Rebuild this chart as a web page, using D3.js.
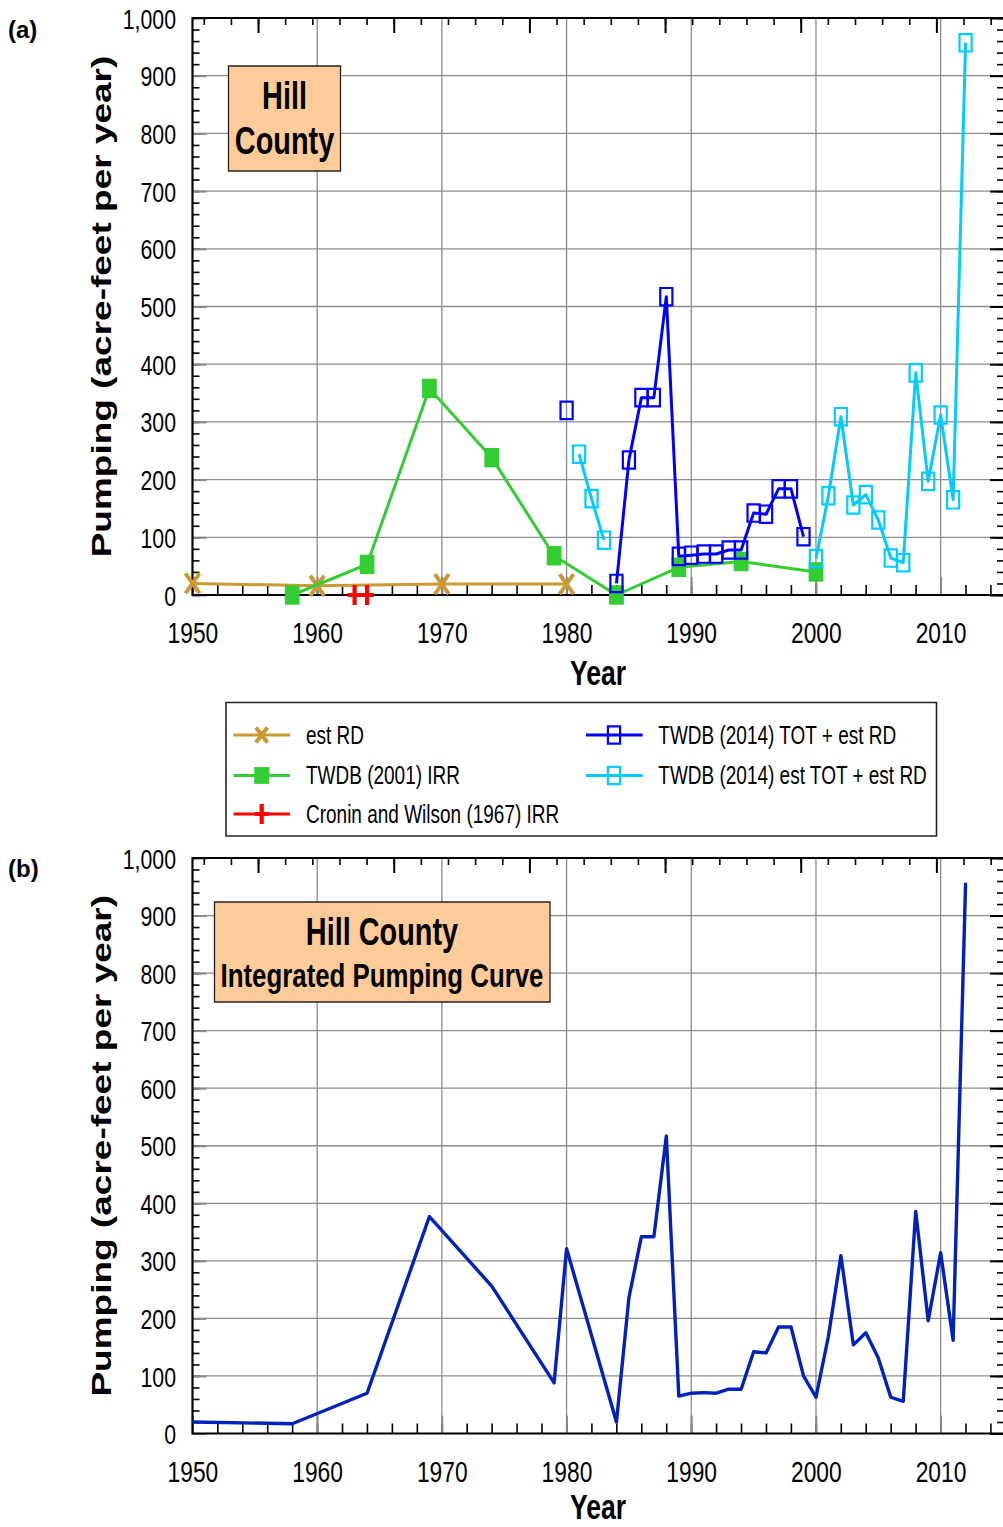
<!DOCTYPE html>
<html><head><meta charset="utf-8">
<script src="https://cdn.jsdelivr.net/npm/d3@7"></script>
<style>
body{margin:0;background:#fff}
svg{display:block}
text{font-family:"Liberation Sans",Arial,Helvetica,sans-serif;fill:#000}
</style>
</head><body>
<svg id="c" width="1003" height="1527"></svg>
<script>
// ---------------- DATA ----------------
const rdYears = [1950, 1960, 1970, 1980];
const rdValues = [20, 16, 19, 19];

const irrYears = [1958, 1964, 1969, 1974, 1979, 1984, 1989, 1994, 2000];
const irrValues = [0, 53, 358, 238, 68, 0, 48, 58, 40];

const croninYears = [1963, 1964];
const croninValues = [0, 0];

const totYears = [1980, 1984, 1985, 1986, 1987, 1988, 1989, 1990, 1991, 1992, 1993, 1994, 1995, 1996, 1997, 1998, 1999];
const totValues = [320, 20, 234, 342, 342, 517, 67, 69, 71, 71, 78, 78, 142, 140, 184, 184, 101];

const estTotYears = [1981, 1982, 1983, 2000, 2001, 2002, 2003, 2004, 2005, 2006, 2007, 2008, 2009, 2010, 2011, 2012];
const estTotValues = [244, 167, 95, 63, 172, 309, 156, 174, 130, 64, 56, 385, 197, 312, 165, 957];

const intYears = [1950, 1958, 1964, 1969, 1974, 1979, 1980, 1984, 1985, 1986, 1987, 1988, 1989, 1990, 1991, 1992, 1993, 1994, 1995, 1996, 1997, 1998, 1999, 2000, 2001, 2002, 2003, 2004, 2005, 2006, 2007, 2008, 2009, 2010, 2011, 2012];
const intValues = [20, 17, 70, 377, 256, 88, 321, 20, 236, 342, 342, 517, 65, 70, 71, 70, 77, 77, 142, 140, 185, 185, 100, 63, 169, 309, 154, 175, 131, 63, 56, 386, 196, 314, 162, 957];

const xTickYears = [1950, 1960, 1970, 1980, 1990, 2000, 2010];
const yTickValues = [0, 100, 200, 300, 400, 500, 600, 700, 800, 900, 1000];

const legendLabels = ["est RD", "TWDB (2001) IRR", "Cronin and Wilson (1967) IRR", "TWDB (2014) TOT + est RD", "TWDB (2014) est TOT + est RD"];

// ---------------- STYLE ----------------
const C = {rd: "#CC9933", irr: "#33CC33", cronin: "#FF0000", tot: "#0000FF", est: "#00CCFF", integ: "#0022BB", grid: "#8c8c8c"};
const k = 0.76;               // horizontal condensing of the whole figure
const X = v => v / k;         // screen x -> local x

const svg = d3.select("#c");
svg.append("rect").attr("width", 1003).attr("height", 1527).attr("fill", "#fff");
const root = svg.append("g").attr("transform", `scale(${k},1)`);

const x = d3.scaleLinear().domain([1950, 2015]).range([X(192.5), X(1003)]);
const xTop = d3.scaleLinear().domain([-27.42, 2.45]).range([X(192.5), X(1003)]);
const fmt = d3.format(",");

function nss(sel) { return sel.attr("vector-effect", "non-scaling-stroke"); }

function panel(yRange, titleY) {
  const y = d3.scaleLinear().domain([0, 1000]).range(yRange);
  const g = root.append("g");
  // grid
  g.append("g").selectAll("line").data(xTickYears.slice(1)).join("line")
    .attr("x1", d => x(d)).attr("x2", d => x(d)).attr("y1", y(0)).attr("y2", y(1000))
    .attr("stroke", C.grid).attr("stroke-width", 1.3).call(nss);
  g.append("g").selectAll("line").data(yTickValues.slice(1, -1)).join("line")
    .attr("x1", x(1950)).attr("x2", x(2015)).attr("y1", d => y(d)).attr("y2", d => y(d))
    .attr("stroke", C.grid).attr("stroke-width", 1.3).call(nss);

  const clean = (a, col, w) => a.call(s => s.select(".domain").remove())
    .call(s => s.selectAll("line").attr("stroke", col).attr("stroke-width", w).call(nss));

  // left axis
  g.append("g").attr("transform", `translate(${x(1950)},0)`)
    .call(d3.axisLeft(y).tickValues(d3.range(0, 1001, 20)).tickSize(-X(7)).tickFormat(""))
    .call(s => clean(s, "#000", 1.6));
  const la = g.append("g").attr("transform", `translate(${x(1950)},0)`)
    .call(d3.axisLeft(y).tickValues(yTickValues).tickSize(-X(14)).tickPadding(X(16.5)).tickFormat(fmt))
    .call(s => clean(s, "#888", 2));
  la.selectAll("text").attr("font-size", 28).attr("font-family", "Liberation Sans, Arial, sans-serif").attr("fill", "#000").attr("dy", "0.36em");

  // right axis
  g.append("g").attr("transform", `translate(${X(1003)},0)`)
    .call(d3.axisRight(y).tickValues(d3.range(0, 1001, 20)).tickSize(-X(6)).tickFormat(""))
    .call(s => clean(s, "#000", 1.6));
  g.append("g").attr("transform", `translate(${X(1003)},0)`)
    .call(d3.axisRight(y).tickValues(yTickValues).tickSize(-X(13)).tickFormat(""))
    .call(s => clean(s, "#000", 2));

  // bottom axis
  g.append("g").attr("transform", `translate(0,${y(0)})`)
    .call(d3.axisBottom(x).tickValues(d3.range(1950, 2015, 2)).tickSize(-10).tickFormat(""))
    .call(s => clean(s, "#000", 1.6));
  const ba = g.append("g").attr("transform", `translate(0,${y(0)})`)
    .call(d3.axisBottom(x).tickValues(xTickYears).tickSize(-18).tickPadding(27).tickFormat(d3.format("d")))
    .call(s => clean(s, "#888", 2));
  ba.selectAll("text").attr("font-size", 30).attr("font-family", "Liberation Sans, Arial, sans-serif").attr("fill", "#000");

  // top axis
  g.append("g").attr("transform", `translate(0,${y(1000)})`)
    .call(d3.axisTop(xTop).tickValues(d3.range(-27, 3, 1)).tickSize(-7).tickFormat(""))
    .call(s => clean(s, "#000", 1.6));
  g.append("g").attr("transform", `translate(0,${y(1000)})`)
    .call(d3.axisTop(xTop).tickValues([-25, -20, -15, -10, -5, 0]).tickSize(-15).tickFormat(""))
    .call(s => clean(s, "#000", 2));

  // frame
  const fr = g.append("g").attr("stroke", "#000").attr("stroke-width", 2.2);
  fr.append("line").attr("x1", x(1950)).attr("x2", x(1950)).attr("y1", y(0) + 1).attr("y2", y(1000) - 1).call(nss);
  fr.append("line").attr("x1", x(1950)).attr("x2", x(2015)).attr("y1", y(0)).attr("y2", y(0)).call(nss);
  fr.append("line").attr("x1", x(1950)).attr("x2", x(2015)).attr("y1", y(1000)).attr("y2", y(1000)).call(nss);

  // y title
  g.append("text").attr("transform", `translate(${X(101)},${(yRange[0] + yRange[1]) / 2}) rotate(-90)`)
    .attr("text-anchor", "middle").attr("dominant-baseline", "central")
    .attr("font-size", 37).attr("font-weight", "bold").text("Pumping (acre-feet per year)");
  // x title
  g.append("text").attr("x", X(598)).attr("y", titleY).attr("text-anchor", "middle")
    .attr("font-size", 35).attr("font-weight", "bold").text("Year");
  return {g, y};
}

function drawMarker(sel, type, color, small) {
  if (type === "x") {
    const sx = small ? 7.5 : 9.2, sy = small ? 7.5 : 10;
    sel.append("path").attr("d", `M${-sx},${-sy}L${sx},${sy}M${-sx},${sy}L${sx},${-sy}`)
      .attr("stroke", color).attr("stroke-width", 4).attr("fill", "none").call(nss);
  } else if (type === "fsq") {
    const s = small ? 9.8 : 9.7, h = small ? 8.4 : 9.7;
    sel.append("rect").attr("x", -s).attr("y", -h).attr("width", 2 * s).attr("height", 2 * h).attr("fill", color);
  } else if (type === "osq") {
    sel.append("rect").attr("x", -8).attr("y", -8.7).attr("width", 16).attr("height", 17.4)
      .attr("fill", "none").attr("stroke", color).attr("stroke-width", 2.2).call(nss);
  } else if (type === "plus") {
    sel.append("path").attr("d", "M-9.2,0H9.2M0,-10V10")
      .attr("stroke", color).attr("stroke-width", 4.2).attr("fill", "none").call(nss);
  }
}

function series(g, y, xs, vs, color, marker, splitGaps, width) {
  const pts = xs.map((d, i) => ({yr: d, v: vs[i]}));
  const segs = [[]];
  pts.forEach((p, i) => {
    if (splitGaps && i > 0 && p.yr - pts[i - 1].yr > 1) segs.push([]);
    segs[segs.length - 1].push(p);
  });
  const line = d3.line().x(d => x(d.yr)).y(d => y(d.v));
  const sg = g.append("g");
  segs.filter(s => s.length > 1).forEach(s =>
    sg.append("path").attr("d", line(s)).attr("fill", "none").attr("stroke", color)
      .attr("stroke-width", width || 3).attr("stroke-linejoin", "round").call(nss));
  if (marker) {
    pts.forEach(p => {
      const m = sg.append("g").attr("transform", `translate(${x(p.yr)},${y(p.v)})`);
      drawMarker(m, marker, color, false);
    });
  }
}

// ---------------- PANEL A ----------------
const A = panel([595, 18], 685);
series(A.g, A.y, rdYears, rdValues, C.rd, "x", false);
series(A.g, A.y, irrYears, irrValues, C.irr, "fsq", false);
series(A.g, A.y, croninYears, croninValues, C.cronin, "plus", false);
series(A.g, A.y, totYears, totValues, C.tot, "osq", true);
series(A.g, A.y, estTotYears, estTotValues, C.est, "osq", true);

// title box A
const bA = root.append("g");
bA.append("rect").attr("x", X(228.5)).attr("y", 66).attr("width", X(340.5) - X(228.5)).attr("height", 105)
  .attr("fill", "#FFCC99").attr("stroke", "#222").attr("stroke-width", 1.3).call(nss);
bA.append("text").attr("x", X(284.5)).attr("y", 109).attr("text-anchor", "middle")
  .attr("font-size", 38).attr("font-weight", "bold").text("Hill");
bA.append("text").attr("x", X(284.5)).attr("y", 154).attr("text-anchor", "middle")
  .attr("font-size", 38).attr("font-weight", "bold").text("County");

// ---------------- LEGEND ----------------
const lg = root.append("g");
lg.append("rect").attr("x", X(226)).attr("y", 702.5).attr("width", X(936.5) - X(226)).attr("height", 133.5)
  .attr("fill", "#fff").attr("stroke", "#222").attr("stroke-width", 1.6).call(nss);
const legendItems = [
  {label: legendLabels[0], color: C.rd, m: "x", col: 0, row: 0},
  {label: legendLabels[1], color: C.irr, m: "fsq", col: 0, row: 1},
  {label: legendLabels[2], color: C.cronin, m: "plus", col: 0, row: 2},
  {label: legendLabels[3], color: C.tot, m: "osq", col: 1, row: 0},
  {label: legendLabels[4], color: C.est, m: "osq", col: 1, row: 1}
];
const rowY = [735, 775.5, 814];
const colX = [{l: 233.5, r: 290, m: 261.7, t: 306}, {l: 586, r: 642.7, m: 614, t: 658.3}];
legendItems.forEach(it => {
  const c = colX[it.col], yy = rowY[it.row];
  lg.append("line").attr("x1", X(c.l)).attr("x2", X(c.r)).attr("y1", yy).attr("y2", yy)
    .attr("stroke", it.color).attr("stroke-width", 3).call(nss);
  const m = lg.append("g").attr("transform", `translate(${X(c.m)},${yy})`);
  drawMarker(m, it.m, it.color, true);
  lg.append("text").attr("x", X(c.t)).attr("y", yy + 8.8).attr("font-size", 25).text(it.label);
});

// ---------------- PANEL B ----------------
const B = panel([1433.5, 858], 1519);
series(B.g, B.y, intYears, intValues, C.integ, null, false, 3.4);

const bB = root.append("g");
bB.append("rect").attr("x", X(214.5)).attr("y", 902).attr("width", X(550) - X(214.5)).attr("height", 100)
  .attr("fill", "#FFCC99").attr("stroke", "#222").attr("stroke-width", 1.3).call(nss);
bB.append("text").attr("x", X(382)).attr("y", 945).attr("text-anchor", "middle")
  .attr("font-size", 38).attr("font-weight", "bold").text("Hill County");
bB.append("text").attr("x", X(382)).attr("y", 987).attr("text-anchor", "middle")
  .attr("font-size", 34).attr("font-weight", "bold").text("Integrated Pumping Curve");

// panel labels
svg.append("text").attr("x", 8).attr("y", 38).attr("font-size", 24).attr("font-weight", "bold").text("(a)");
svg.append("text").attr("x", 8).attr("y", 877).attr("font-size", 24).attr("font-weight", "bold").text("(b)");
</script>
</body></html>
